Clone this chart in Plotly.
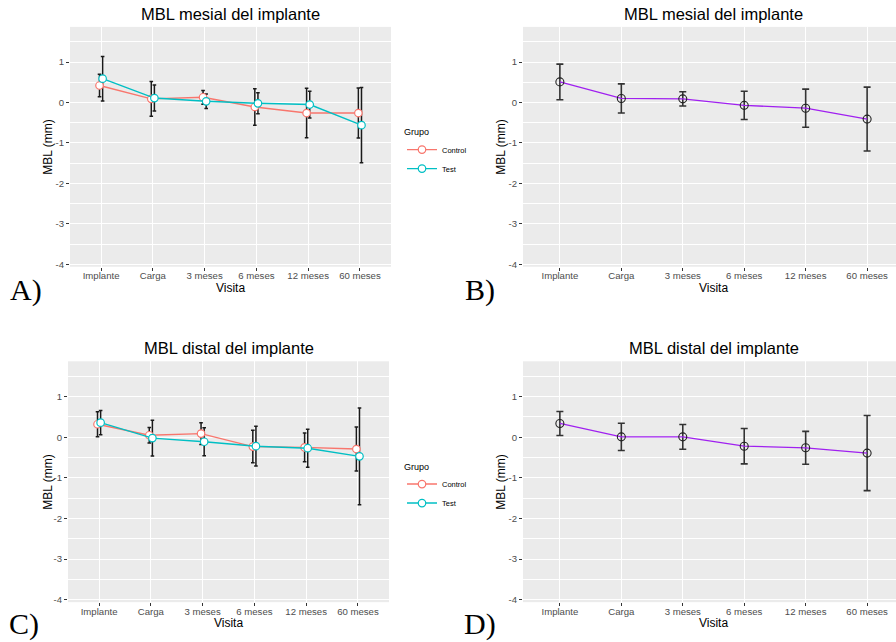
import plotly.graph_objects as go

# Visits on the x axis
visitas = ["Implante", "Carga", "3 meses", "6 meses", "12 meses", "60 meses"]

# Mesial bone loss by group (mean and SD, mm)
mesial_control_mean = [0.42, 0.09, 0.13, -0.11, -0.26, -0.26]
mesial_control_sd = [0.28, 0.43, 0.17, 0.45, 0.61, 0.62]
mesial_test_mean = [0.59, 0.11, 0.03, -0.02, -0.05, -0.56]
mesial_test_sd = [0.55, 0.32, 0.18, 0.26, 0.33, 0.93]

# Mesial bone loss, all implants
mesial_total_mean = [0.51, 0.10, 0.09, -0.07, -0.14, -0.41]
mesial_total_sd = [0.44, 0.36, 0.175, 0.35, 0.47, 0.79]

# Distal bone loss by group
distal_control_mean = [0.32, 0.05, 0.09, -0.23, -0.25, -0.29]
distal_control_sd = [0.31, 0.19, 0.27, 0.40, 0.355, 0.54]
distal_test_mean = [0.36, -0.02, -0.11, -0.22, -0.27, -0.47]
distal_test_sd = [0.30, 0.44, 0.345, 0.49, 0.47, 1.19]

# Distal bone loss, all implants
distal_total_mean = [0.34, 0.01, 0.01, -0.22, -0.26, -0.39]
distal_total_sd = [0.295, 0.335, 0.305, 0.435, 0.405, 0.925]

W, H = 896, 642
FONT = "Liberation Sans, Arial, sans-serif"
SERIF = "Liberation Serif, Times New Roman, serif"
C_CONTROL = "#F8766D"
C_TEST = "#00BFC4"
C_PURPLE = "#A020F0"
DODGE = 0.03

idx = list(range(len(visitas)))


def px(x):
    return x / W


def py(y):
    return 1 - y / H


fig = go.Figure()


def add_group(mean, sd, color, name, ax, offset, legend, showlegend):
    xs = [i + offset for i in idx]
    xa, ya = f"x{ax}" if ax > 1 else "x", f"y{ax}" if ax > 1 else "y"
    # error bars first so every point sits on top of them
    fig.add_trace(go.Scatter(
        x=xs, y=mean, mode="markers", xaxis=xa, yaxis=ya,
        marker=dict(size=1, opacity=0), showlegend=False, hoverinfo="skip",
        error_y=dict(type="data", array=sd, visible=True, color="#1A1A1A",
                     thickness=1.5, width=1.8)))
    return dict(x=xs, y=mean, mode="lines+markers", xaxis=xa, yaxis=ya, name=name,
                line=dict(color=color, width=1.4),
                marker=dict(symbol="circle", size=7.5, color="white",
                            line=dict(color=color, width=1.2)),
                legend=legend, showlegend=showlegend)


def add_total(mean, sd, ax):
    xa, ya = f"x{ax}", f"y{ax}"
    fig.add_trace(go.Scatter(
        x=idx, y=mean, mode="markers", xaxis=xa, yaxis=ya,
        marker=dict(size=1, opacity=0), showlegend=False, hoverinfo="skip",
        error_y=dict(type="data", array=sd, visible=True, color="#333333",
                     thickness=1.6, width=3.5)))
    fig.add_trace(go.Scatter(
        x=idx, y=mean, mode="lines+markers", xaxis=xa, yaxis=ya,
        line=dict(color=C_PURPLE, width=1.3),
        marker=dict(symbol="circle-open", size=8, color="#222222",
                    line=dict(width=1.1)),
        showlegend=False, hoverinfo="skip"))


# Panel A: mesial by group
tr_a = [add_group(mesial_control_mean, mesial_control_sd, C_CONTROL, "Control", 1, -DODGE, "legend", True),
        add_group(mesial_test_mean, mesial_test_sd, C_TEST, "Test", 1, DODGE, "legend", True)]
for t in tr_a:
    fig.add_trace(go.Scatter(**t))

# Panel B: mesial, all implants
add_total(mesial_total_mean, mesial_total_sd, 2)

# Panel C: distal by group
tr_c = [add_group(distal_control_mean, distal_control_sd, C_CONTROL, "Control", 3, -DODGE, "legend2", True),
        add_group(distal_test_mean, distal_test_sd, C_TEST, "Test", 3, DODGE, "legend2", True)]
for t in tr_c:
    fig.add_trace(go.Scatter(**t))

# Panel D: distal, all implants
add_total(distal_total_mean, distal_total_sd, 4)

yticks = [-4, -3, -2, -1, 0, 1]
yminor = [-3.5, -2.5, -1.5, -0.5, 0.5, 1.5]

panels = {
    1: dict(x0=70, x1=391, y0=27, y1=268, xr=[-0.6, 5.6]),
    2: dict(x0=523, x1=896, y0=27, y1=268, xr=[-0.6, 5.47]),
    3: dict(x0=68, x1=389, y0=363, y1=605, xr=[-0.6, 5.6]),
    4: dict(x0=523, x1=896, y0=363, y1=605, xr=[-0.6, 5.47]),
}

axis_common = dict(showline=False, zeroline=False, ticks="outside", ticklen=3,
                   tickwidth=1, tickcolor="#333333", gridcolor="white",
                   tickfont=dict(family=FONT, size=9.6, color="#4D4D4D"))

for k, p in panels.items():
    sx = "" if k == 1 else str(k)
    fig.layout[f"xaxis{sx}"] = dict(
        domain=[px(p["x0"]), px(p["x1"])], anchor=f"y{sx}", range=p["xr"],
        tickvals=idx, ticktext=visitas, gridwidth=1.3, ticklabelstandoff=-3,
        **axis_common)
    fig.layout[f"yaxis{sx}"] = dict(
        domain=[py(p["y1"]), py(p["y0"])], anchor=f"x{sx}", range=[-4.06, 1.87],
        tickvals=yticks, ticktext=[str(v) for v in yticks], gridwidth=1.3,
        minor=dict(tickvals=yminor, showgrid=True, gridcolor="white",
                   gridwidth=0.6, ticks=""),
        **axis_common)

annotations = []
titles = ["MBL mesial del implante", "MBL mesial del implante",
          "MBL distal del implante", "MBL distal del implante"]
for k, p in panels.items():
    # the right-hand panels run past the page edge, centre on the full panel width
    cx = (p["x0"] + p["x1"]) / 2 if k in (1, 3) else (p["x0"] + 904) / 2
    annotations.append(dict(text=titles[k - 1], x=px(cx), y=py(p["y0"] - 13),
                            xref="paper", yref="paper", showarrow=False,
                            xanchor="center", yanchor="middle",
                            font=dict(family=FONT, size=16.5, color="black")))
    annotations.append(dict(text="Visita", x=px(cx), y=py(p["y1"] + 21),
                            xref="paper", yref="paper", showarrow=False,
                            xanchor="center", yanchor="middle",
                            font=dict(family=FONT, size=12, color="black")))
    ycx = 48 if k in (1, 3) else 501
    annotations.append(dict(text="MBL (mm)", x=px(ycx), y=py((p["y0"] + p["y1"]) / 2),
                            xref="paper", yref="paper", showarrow=False, textangle=-90,
                            xanchor="center", yanchor="middle",
                            font=dict(family=FONT, size=12, color="black")))

# panel letters
for lab, x, y in [("A)", 8, 291), ("B)", 463, 291), ("C)", 7, 627), ("D)", 462, 627)]:
    annotations.append(dict(text=lab, x=px(x), y=py(y), xref="paper", yref="paper",
                            showarrow=False, xanchor="left", yanchor="middle",
                            font=dict(family=SERIF, size=30, color="black")))

legend_style = dict(xanchor="left", yanchor="top", bgcolor="rgba(0,0,0,0)",
                    font=dict(family=FONT, size=7.5, color="black"),
                    title=dict(text="Grupo", font=dict(family=FONT, size=9, color="black")),
                    itemwidth=30, tracegroupgap=0)

fig.update_layout(
    width=W, height=H, margin=dict(l=0, r=0, t=0, b=0),
    paper_bgcolor="white", plot_bgcolor="#EBEBEB",
    annotations=annotations,
    legend=dict(x=px(402), y=py(124), **legend_style),
    legend2=dict(x=px(402), y=py(460), **legend_style),
    hovermode=False,
)

fig.write_html("out.html")
